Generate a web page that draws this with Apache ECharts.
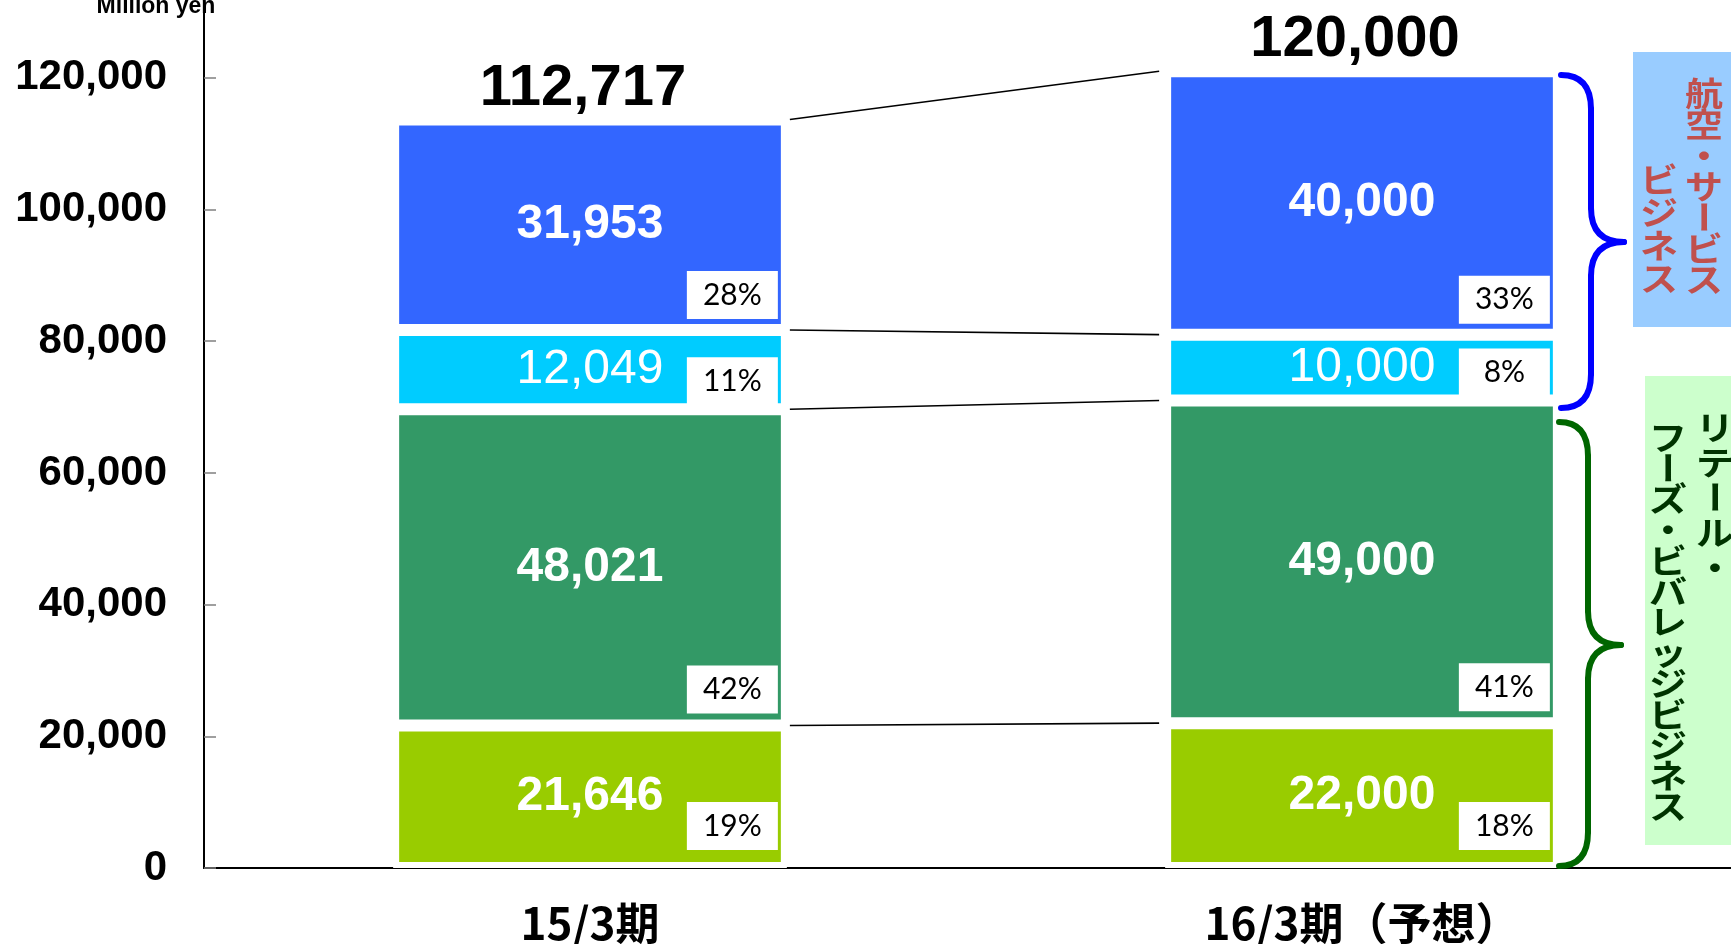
<!DOCTYPE html>
<html lang="ja">
<head>
    <meta charset="UTF-8">
    <title>セグメント別売上高</title>
    <script src="https://cdn.jsdelivr.net/npm/echarts@6/dist/echarts.min.js"></script>
    <style>
        body { margin: 0; background: #fff; }
        #main { width: 1731px; height: 944px; }
    </style>
</head>
<body>
    <div id="main"></div>
    <script type="text/javascript">
        var categories = ['15/3期', '16/3期（予想）'];
        var totals = [112717, 120000];
        // 下から順に積み上げ
        var limeVals = [21646, 22000];
        var greenVals = [48021, 49000];
        var cyanVals = [12049, 10000];
        var blueVals = [31953, 40000];
        var limePct = [19, 18];
        var greenPct = [42, 41];
        var cyanPct = [11, 8];
        var bluePct = [28, 33];
        var yTicks = [0, 20000, 40000, 60000, 80000, 100000, 120000];

        var serviceText = ['航空・サービス', 'ビジネス'];
        var retailText = ['リテール・', 'フーズ・ビバレッジビジネス'];

        var BW = '51%';

        function fmt(v) {
            return String(v).replace(/\B(?=(\d{3})+(?!\d))/g, ',');
        }

        var layers = [
            {name: 'lime', data: limeVals, pct: limePct, color: '#99CC00', weight: 'bold', lift: 9},
            {name: 'green', data: greenVals, pct: greenPct, color: '#339966', weight: 'bold', lift: 3},
            {name: 'cyan', data: cyanVals, pct: cyanPct, color: '#00CCFF', weight: 'normal', lift: -5},
            {name: 'blue', data: blueVals, pct: bluePct, color: '#3366FF', weight: 'bold', lift: 2}
        ];

        var series = [];
        layers.forEach(function (l) {
            series.push({
                type: 'bar',
                name: l.name,
                stack: 'a',
                barWidth: BW,
                data: l.data,
                itemStyle: {color: l.color, borderColor: '#fff', borderWidth: 6},
                label: {
                    show: true,
                    position: 'inside',
                    formatter: function (p) { return fmt(p.value); },
                    color: '#fff',
                    fontSize: 48,
                    fontWeight: l.weight,
                    fontFamily: 'Liberation Sans'
                },
                silent: true
            });
            // 透明な棒に割合ラベルだけ載せる
            series.push({
                type: 'bar',
                name: l.name + '-pct',
                stack: 'b',
                xAxisIndex: 1,
                barWidth: BW,
                data: l.data,
                itemStyle: {color: 'rgba(0,0,0,0)'},
                label: {
                    show: true,
                    position: 'insideBottomRight',
                    distance: 9,
                    offset: [0, -l.lift],
                    formatter: function (p) { return '{p|' + l.pct[p.dataIndex] + '%}'; },
                    backgroundColor: '#fff',
                    padding: [8, 12],
                    rich: {
                        p: {width: 67, align: 'center', fontFamily: 'Lato', fontSize: 30, lineHeight: 32, color: '#000'}
                    }
                },
                z: 4,
                silent: true
            });
        });

        // 合計ラベル
        series.push({
            type: 'bar',
            name: 'total',
            stack: 'a',
            barWidth: BW,
            data: [0, 0],
            itemStyle: {color: 'rgba(0,0,0,0)'},
            label: {
                show: true,
                position: 'top',
                distance: 2,
                offset: [-7, 0],
                formatter: function (p) { return fmt(totals[p.dataIndex]); },
                color: '#000',
                fontSize: 58,
                fontWeight: 'bold',
                fontFamily: 'Liberation Sans'
            },
            silent: true
        });

        // 棒どうしをつなぐ線
        var levels = [];
        var s0 = 0, s1 = 0;
        layers.forEach(function (l) {
            s0 += l.data[0];
            s1 += l.data[1];
            levels.push([0, s0, s1]);
        });
        series.push({
            type: 'custom',
            name: 'connect',
            xAxisIndex: 0,
            data: levels,
            encode: {x: 0, y: [1, 2]},
            renderItem: function (params, api) {
                var a = api.coord([0, api.value(1)]);
                var b = api.coord([1, api.value(2)]);
                var half = api.size([1, 0])[0] * 0.255;
                return {
                    type: 'line',
                    shape: {x1: a[0] + half + 3, y1: a[1], x2: b[0] - half - 6, y2: b[1]},
                    style: {stroke: '#000', lineWidth: 1.6}
                };
            },
            z: 5,
            silent: true
        });

        function column(str, x, y0, step, color) {
            return str.split('').map(function (ch, i) {
                return {
                    type: 'text',
                    x: x,
                    y: y0 + i * step,
                    rotation: ch === 'ー' ? -Math.PI / 2 : 0,
                    scaleX: ch === 'ー' ? 1 : 1.15,
                    scaleY: ch === 'ー' ? 1.15 : 1,
                    style: {
                        text: ch,
                        fontSize: 33,
                        fontWeight: 'bold',
                        fontFamily: 'Noto Sans CJK JP',
                        fill: color,
                        align: 'center',
                        verticalAlign: 'middle'
                    },
                    z: 10
                };
            });
        }

        // 中括弧 }
        function brace(x0, xm, xt, yTop, yMid, yBot, color) {
            var r = 34;
            var st = {stroke: color, lineWidth: 6, fill: null, lineCap: 'round'};
            var segs = [
                {type: 'bezierCurve', shape: {x1: x0, y1: yTop, cpx1: xm, cpy1: yTop, x2: xm, y2: yTop + r}},
                {type: 'line', shape: {x1: xm, y1: yTop + r, x2: xm, y2: yMid - r}},
                {type: 'bezierCurve', shape: {x1: xm, y1: yMid - r, cpx1: xm, cpy1: yMid, x2: xt, y2: yMid}},
                {type: 'bezierCurve', shape: {x1: xt, y1: yMid, cpx1: xm, cpy1: yMid, x2: xm, y2: yMid + r}},
                {type: 'line', shape: {x1: xm, y1: yMid + r, x2: xm, y2: yBot - r}},
                {type: 'bezierCurve', shape: {x1: xm, y1: yBot - r, cpx1: xm, cpy1: yBot, x2: x0, y2: yBot}}
            ];
            return segs.map(function (s) {
                s.style = st;
                s.z = 10;
                return s;
            });
        }

        var graphics = [
            {
                type: 'text', x: 156, y: 7,
                style: {text: 'Million yen', fontSize: 23, fontWeight: 'bold', fontFamily: 'Liberation Sans', fill: '#000', align: 'center', verticalAlign: 'middle'}
            },
            {type: 'rect', shape: {x: 1633, y: 52, width: 100, height: 275}, style: {fill: '#99CCFF'}, z: 9},
            {type: 'rect', shape: {x: 1645, y: 376, width: 90, height: 469}, style: {fill: '#CCFFCC'}, z: 9}
        ];
        graphics = graphics
            .concat(brace(1561, 1591, 1624, 75, 242, 408, '#0000FF'))
            .concat(brace(1559, 1588, 1621, 422, 645, 866, '#006600'))
            .concat(column(serviceText[0], 1704, 93, 31, '#C0504D'))
            .concat(column(serviceText[1], 1659, 179, 33, '#C0504D'))
            .concat(column(retailText[0], 1715, 427, 35, '#003300'))
            .concat(column(retailText[1], 1668, 437, 30.8, '#003300'));

        var myChart = echarts.init(document.getElementById('main'));
        var option = {
            backgroundColor: '#fff',
            animation: false,
            grid: {left: 204, width: 1544, top: 12, bottom: 76, containLabel: false, outerBoundsMode: 'none'},
            xAxis: [
                {
                    type: 'category',
                    data: categories,
                    axisLine: {lineStyle: {color: '#000', width: 2}},
                    axisTick: {inside: true, length: 13, lineStyle: {color: '#808080', width: 1}},
                    axisLabel: {
                        margin: 33,
                        color: '#000',
                        fontSize: 44,
                        fontWeight: 'bold',
                        fontFamily: 'Noto Sans CJK JP'
                    }
                },
                {
                    type: 'category',
                    data: categories,
                    show: false
                }
            ],
            yAxis: {
                type: 'value',
                min: 0,
                max: 130000,
                interval: 20000,
                splitLine: {show: false},
                axisLine: {show: true, lineStyle: {color: '#000', width: 2}},
                axisTick: {show: true, inside: true, length: 12, customValues: yTicks, lineStyle: {color: '#808080', width: 1.5}},
                axisLabel: {
                    customValues: yTicks,
                    margin: 37,
                    color: '#000',
                    fontSize: 42,
                    fontWeight: 'bold',
                    fontFamily: 'Liberation Sans',
                    formatter: function (v) { return fmt(v); }
                }
            },
            graphic: graphics,
            series: series
        };
        myChart.setOption(option);
    </script>
</body>
</html>
